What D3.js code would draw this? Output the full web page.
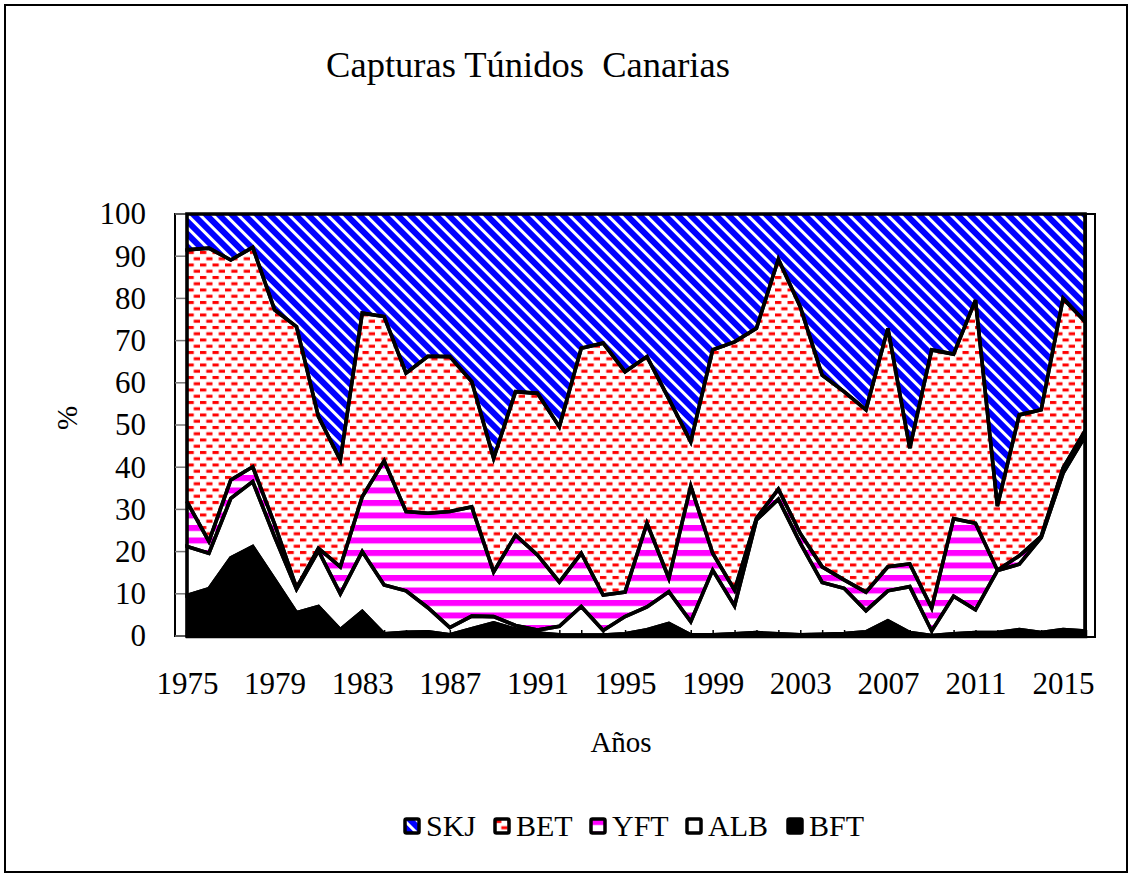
<!DOCTYPE html>
<html>
<head>
<meta charset="utf-8">
<script src="https://cdn.jsdelivr.net/npm/d3@7"></script>
<style>
body{margin:0;background:#fff}
svg text{font-family:"Liberation Serif","Times New Roman",serif;fill:#000}
</style>
</head>
<body>
<svg width="1132" height="877"></svg>
<script>
// años
var years=[1975,1976,1977,1978,1979,1980,1981,1982,1983,1984,1985,1986,1987,1988,
  1989,1990,1991,1992,1993,1994,1995,1996,1997,1998,1999,2000,2001,2002,2003,2004,
  2005,2006,2007,2008,2009,2010,2011,2012,2013,2014,2015,2016];
// % de capturas por especie
var bft=[9.6,11.2,18.5,21.2,13.4,5.5,7.0,1.5,5.8,0.5,0.9,1.0,0.3,1.7,3.1,1.6,0.7,0.3,0.2,0.2,
  0.5,1.5,3.0,0.3,0.3,0.5,0.8,0.5,0.3,0.4,0.6,1.0,3.6,0.8,0.1,0.5,0.8,0.8,1.5,0.8,1.5,1.2];
var alb=[11.6,8.4,14.1,15.4,10.1,5.6,13.2,8.5,14.2,11.6,9.8,5.7,1.7,3.0,1.5,0.9,0.7,2.0,6.8,1.1,
  4.1,5.4,7.5,3.1,15.3,6.6,26.7,31.9,21.7,12.3,10.7,5.0,7.1,10.9,1.1,8.9,5.4,14.7,15.5,22.5,37.1,46.1];
var yft=[10.6,2.8,4.4,3.5,3.0,0.3,0.6,6.4,13.0,29.4,18.8,22.4,27.5,25.9,10.6,21.4,17.8,10.5,12.6,8.4,
  5.8,19.8,3.2,32.1,4.0,3.8,0.4,2.4,2.3,3.7,2.0,4.4,5.7,5.4,5.4,18.4,20.5,0.1,2.0,0.3,1.2,1.3];
var bet=[59.7,69.5,52.1,52.0,50.8,61.9,31.2,25.3,43.5,34.2,32.8,37.2,36.7,29.7,26.9,34.0,38.3,36.8,48.6,59.7,
  52.2,39.5,42.5,10.5,48.2,58.8,45.0,54.5,53.7,45.4,44.6,43.2,56.5,27.4,61.2,39.0,52.9,15.2,33.4,30.0,40.2,25.9];
var skj=[8.5,8.1,10.9,7.9,22.7,26.7,48.0,58.3,23.5,24.3,37.7,33.7,33.8,39.7,57.9,42.1,42.5,50.4,31.8,30.6,
  37.4,33.8,43.8,54.0,32.2,30.3,27.1,10.7,22.0,38.2,42.1,46.4,27.1,55.5,32.2,33.2,20.4,69.2,47.6,46.4,20.0,25.5];
var labelYears=[1975,1979,1983,1987,1991,1995,1999,2003,2007,2011,2015];
var keys=["BFT","ALB","YFT","BET","SKJ"];
var legendKeys=["SKJ","BET","YFT","ALB","BFT"];

var table=years.map(function(yr,i){
  return {year:yr,BFT:bft[i],ALB:alb[i],YFT:yft[i],BET:bet[i],SKJ:skj[i]}
})

var svg=d3.select("svg")

// patrones
var defs=svg.append("defs")
var pSkj=defs.append("pattern").attr("id","p-skj").attr("patternUnits","userSpaceOnUse")
  .attr("width",9).attr("height",9).attr("patternTransform","rotate(-45)")
pSkj.append("rect").attr("width",9).attr("height",9).attr("fill","#fff")
pSkj.append("rect").attr("width",6).attr("height",9).attr("fill","#0000ff")

var pBet=defs.append("pattern").attr("id","p-bet").attr("patternUnits","userSpaceOnUse")
  .attr("width",12.5).attr("height",12.5)
pBet.append("rect").attr("width",12.5).attr("height",12.5).attr("fill","#fff")
pBet.append("rect").attr("x",0).attr("y",1).attr("width",6.3).attr("height",3).attr("fill","#ff0000")
pBet.append("rect").attr("x",6.25).attr("y",7.25).attr("width",6.3).attr("height",3).attr("fill","#ff0000")

var pYft=defs.append("pattern").attr("id","p-yft").attr("patternUnits","userSpaceOnUse")
  .attr("width",12.5).attr("height",12.5)
pYft.append("rect").attr("width",12.5).attr("height",12.5).attr("fill","#fff")
pYft.append("rect").attr("y",0).attr("width",12.5).attr("height",6).attr("fill","#ff00ff")

var fills={SKJ:"url(#p-skj)",BET:"url(#p-bet)",YFT:"url(#p-yft)",ALB:"#fff",BFT:"#000"}

// marco exterior
svg.append("rect").attr("x",5).attr("y",5).attr("width",1122).attr("height",867)
  .attr("fill","#fff").attr("stroke","#000").attr("stroke-width",2)

var xScale=d3.scaleLinear().domain([1975,2016]).range([187,1085])
var yScale=d3.scaleLinear().domain([0,100]).range([636,214])

// paredes
svg.append("rect").attr("x",175).attr("y",yScale(100)).attr("width",12).attr("height",yScale(0)-yScale(100))
  .attr("fill","#fff").attr("stroke","#000").attr("stroke-width",2)
svg.append("rect").attr("x",1086).attr("y",yScale(100)).attr("width",9).attr("height",yScale(0)-yScale(100)+1)
  .attr("fill","#fff").attr("stroke","#000").attr("stroke-width",2)
svg.append("g").selectAll("line").data(d3.range(0,101,10)).enter().append("line")
  .attr("x1",175).attr("x2",187)
  .attr("y1",function(d){return yScale(d)}).attr("y2",function(d){return yScale(d)})
  .attr("stroke","#777").attr("stroke-width",1.5)

var stacked=d3.stack().keys(keys)(table)
var area=d3.area()
  .x(function(d){return xScale(d.data.year)})
  .y0(function(d){return yScale(d[0])})
  .y1(function(d){return yScale(d[1])})

var plot=svg.append("g")
plot.selectAll("path.fill").data(stacked).enter().append("path")
  .attr("class","fill")
  .attr("d",area)
  .attr("fill",function(d){return fills[d.key]})
plot.selectAll("path.edge").data(stacked).enter().append("path")
  .attr("class","edge")
  .attr("d",area)
  .attr("fill","none")
  .attr("stroke","#000")
  .attr("stroke-width",3.6)
  .attr("stroke-linejoin","miter")

// eje x
var xAxis=d3.axisBottom(xScale).tickValues(years).tickSize(-6).tickPadding(36)
  .tickFormat(function(d){return labelYears.indexOf(d)>=0?d:""})
var gx=svg.append("g").attr("transform","translate(0,"+yScale(0)+")").call(xAxis)
gx.select(".domain").attr("stroke","#000").attr("stroke-width",3.5)
gx.selectAll(".tick line").attr("stroke","#000").attr("stroke-width",1.5)
gx.selectAll("text").style("font-size","31px").attr("font-family",null)

// eje y
var yAxis=d3.axisLeft(yScale).ticks(10).tickSize(0).tickPadding(41)
var gy=svg.append("g").attr("transform","translate(187,0)").call(yAxis)
gy.select(".domain").remove()
gy.selectAll("text").style("font-size","31px").attr("font-family",null)

// títulos
svg.append("text").attr("x",528).attr("y",77).attr("text-anchor","middle")
  .style("font-size","36.5px").style("white-space","pre").text("Capturas Túnidos  Canarias")
svg.append("text").attr("x",621).attr("y",752).attr("text-anchor","middle")
  .style("font-size","29px").text("Años")
svg.append("text").attr("transform","translate(77,418) rotate(-90)").attr("text-anchor","middle")
  .style("font-size","29px").text("%")

// leyenda
var legendX=[405,495,591,687,788]
var lg=svg.append("g").selectAll("g").data(legendKeys).enter().append("g")
  .attr("transform",function(d,i){return "translate("+legendX[i]+",819)"})
lg.append("rect").attr("width",14).attr("height",14).attr("rx",1.5)
  .attr("fill",function(d){return fills[d]}).attr("stroke","#000").attr("stroke-width",3.5)
lg.append("text").attr("x",21).attr("y",17).style("font-size","30px").text(function(d){return d})
</script>
</body>
</html>
